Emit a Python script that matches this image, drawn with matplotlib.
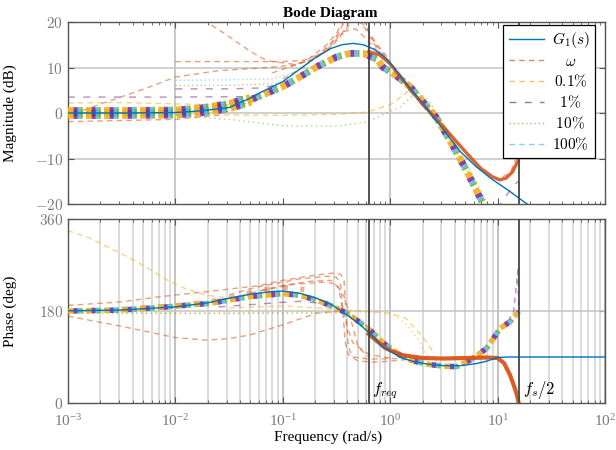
import numpy as np
import matplotlib
matplotlib.use('Agg')
import matplotlib.pyplot as plt
from matplotlib.lines import Line2D
from matplotlib.ticker import FixedLocator, FixedFormatter, LogLocator, NullFormatter

plt.rcParams['mathtext.fontset'] = 'cm'
plt.rcParams['font.family'] = ['Liberation Serif', 'DejaVu Serif']
plt.rcParams['lines.scale_dashes'] = False

# MATLAB default colours
c_blue = '#0072BD'
c_orange = '#D95319'
c_yellow = '#EDB120'
c_purple = '#7E2F8E'
c_green = '#77AC30'
c_cyan = '#4DBEEE'

f_req = 0.2 * np.pi
f_half = 5 * np.pi

# ---- magnitude data (log10 frequency, dB) ----
g1_mag_lf = [-3.0, -2.5, -2.0, -1.75, -1.5, -1.3, -1.2, -1.0, -0.85, -0.7, -0.55, -0.45, -0.35,
             -0.25, -0.15, -0.05, 0.0, 0.1, 0.2, 0.3, 0.4, 0.5, 0.65, 0.8, 0.95, 1.1, 1.25, 1.35]
g1_mag = [0.0, 0.0, 0.1, 0.5, 1.2, 3.3, 4.6, 6.9, 9.5, 12.1, 14.2, 15.0, 15.3,
          15.0, 14.0, 12.3, 11.0, 8.0, 5.0, 2.2, -0.8, -3.8, -8.4, -11.8, -14.6, -17.0, -19.6, -21.2]

est_mag_lf = [-3.0, -2.5, -2.0, -1.75, -1.5, -1.3, -1.0, -0.85, -0.68, -0.5, -0.375, -0.25, -0.12,
              -0.07, 0.05, 0.185, 0.3, 0.43, 0.55, 0.7, 0.84, 0.93]
est_mag = [0.0, 0.0, 0.1, 0.6, 1.5, 2.9, 5.8, 7.8, 10.2, 12.3, 13.1, 13.1, 11.8,
           10.1, 8.3, 5.8, 2.6, -1.0, -5.8, -12.2, -18.8, -23.0]

w_mag_lf = [-0.2, -0.1, 0.0, 0.1, 0.2, 0.3, 0.4, 0.55, 0.7, 0.84, 0.95, 1.02, 1.08, 1.14, 1.19]
w_mag = [13.5, 12.8, 10.8, 7.8, 4.8, 2.0, -0.6, -4.5, -8.5, -12.1, -14.0, -14.7, -14.3, -12.9, -10.5]

om1_lf = [-1.74, -1.5, -1.3, -1.15, -0.9, -0.7, -0.55, -0.45, -0.38]
om1 = [20.5, 16.8, 13.5, 11.5, 10.7, 11.8, 15.0, 19.0, 22.0]
om2_lf = [-2.0, -1.5, -1.0, -0.8, -0.6, -0.45, -0.35, -0.3, -0.2, -0.1, 0.0, 0.1]
om2 = [11.3, 11.3, 11.3, 11.6, 13.5, 17.5, 21.0, 21.5, 17.0, 13.5, 11.2, 8.2]
om3_lf = [-2.86, -2.67, -2.3, -2.0, -1.6, -1.21, -0.9, -0.7, -0.55, -0.42, -0.35, -0.25, -0.12, 0.0]
om3 = [0.6, 2.2, 5.2, 7.9, 9.3, 9.9, 10.5, 12.0, 14.5, 18.0, 20.5, 19.5, 15.0, 11.5]
om4_lf = [-3.0, -2.0, -1.6, -1.3]
om4 = [-1.9, -1.4, -0.5, 2.6]
om5_lf = [-1.0, -0.8, -0.6, -0.45, -0.32, -0.22, -0.1, 0.0]
om5 = [7.5, 10.2, 14.3, 17.8, 18.5, 16.2, 13.2, 10.6]
om6_lf = [-1.1, -0.8, -0.6, -0.5, -0.42, -0.3, -0.25, -0.15, -0.05]
om6 = [8.8, 11.2, 14.8, 17.5, 20.8, 22.0, 20.5, 15.5, 12.5]
om7_lf = [1.05, 1.12, 1.17, 1.19]
om7 = [-14.0, -13.0, -10.0, -6.0]

p1_mag_lf = [-3.0, -2.0, -1.3, -1.1]
p1_mag = [3.5, 3.5, 3.6, 4.8]
p2_mag_lf = [-2.0, -1.5, -1.2, -1.0]
p2_mag = [5.3, 5.3, 5.5, 6.4]
p3_mag_lf = [1.0, 1.07, 1.13, 1.19]
p3_mag = [-21.0, -18.5, -16.5, -15.0]
c1_mag_lf = [-2.0, -1.5, -1.1, -0.9]
c1_mag = [7.2, 7.3, 7.5, 8.8]
gr1_mag_lf = [-2.0, -1.5, -1.1, -0.95]
gr1_mag = [6.0, 6.1, 6.4, 7.0]
gr2_mag_lf = [-2.0, -1.46, -1.0, -0.5, -0.22, 0.09, 0.25, 0.35, 0.5, 0.65, 0.8, 0.93]
gr2_mag = [-0.5, -1.5, -2.8, -2.9, -2.0, 1.3, 4.6, 3.0, -2.5, -8.5, -15.0, -21.0]
y1_mag_lf = [-2.0, -1.0, -0.5, -0.22, 0.0, 0.18, 0.3, 0.45, 0.6, 0.75, 0.88, 0.95]
y1_mag = [-0.4, -0.5, -0.3, 0.2, 1.8, 5.0, 3.2, -1.5, -8.0, -14.0, -20.0, -23.0]
y2_mag_lf = [-3.0, -2.5, -2.0, -1.5]
y2_mag = [2.2, 2.3, 2.0, 1.8]

# ---- phase data (log10 frequency, deg) ----
g1_ph_lf = [-3.0, -2.5, -2.0, -1.7, -1.5, -1.3, -1.1, -1.0, -0.85, -0.7, -0.55, -0.44, -0.3,
            -0.2, -0.07, 0.09, 0.2, 0.35, 0.5, 0.65, 0.8, 0.9, 1.0, 1.1, 2.0]
g1_ph = [180.5, 182, 188, 196, 205, 213, 218, 219, 215, 206, 193, 178, 157,
         138, 110, 90, 82, 76, 73, 73, 77, 82, 89, 90, 90]

est_ph_lf = [-3.0, -2.5, -2.14, -1.68, -1.31, -1.0, -0.85, -0.68, -0.5, -0.375, -0.19, -0.05,
             0.09, 0.2, 0.34, 0.5, 0.62, 0.743, 0.82, 0.898, 0.96, 1.022, 1.115, 1.196]
est_ph = [180, 182, 187, 195, 208, 214, 211, 201, 186, 172, 143, 115,
          94, 83, 76, 72, 71, 84, 95, 107, 126, 146, 159, 179]

w_ph_lf = [-0.2, -0.05, 0.1, 0.3, 0.5, 0.7, 0.9, 1.0, 1.06, 1.115, 1.15, 1.18, 1.196]
w_ph = [135, 108, 94, 88, 87, 88, 89, 88, 78, 55, 35, 16, 0]
w_low_ph_lf = [-2.5, -2.0, -1.7, -1.45, -1.21, -1.0, -0.8]
w_low_ph = [183, 190, 197, 207, 220, 226, 222]

oph1_lf = [-3.0, -2.5, -2.14, -1.7, -1.21, -1.0, -0.7, -0.53, -0.46, -0.43, -0.41, -0.39, -0.35, -0.2, 0.1, 0.4]
oph1 = [191, 198, 208, 218, 230, 240, 250, 254, 252, 240, 170, 110, 90, 86, 87, 88]
oph2_lf = [-3.0, -2.5, -2.0, -1.71, -1.5, -1.31, -1.0, -0.68, -0.44, -0.3, -0.15, 0.0, 0.2, 0.4]
oph2 = [170, 150, 128, 123, 126, 133, 153, 176, 180, 165, 130, 100, 88, 87]
oph3_lf = [-1.5, -1.24, -0.84, -0.6, -0.5, -0.46, -0.44, -0.42, -0.39, -0.3, -0.15, 0.0, 0.2]
oph3 = [212, 227, 243, 248, 246, 230, 180, 120, 95, 82, 80, 82, 86]
oph4_lf = [-1.3, -1.0, -0.75, -0.55, -0.48, -0.45, -0.4, -0.35, -0.2, 0.0]
oph4 = [215, 230, 238, 240, 225, 190, 150, 118, 95, 88]
oph5_lf = [-1.2, -0.9, -0.6, -0.5, -0.42, -0.35, -0.3, -0.2]
oph5 = [220, 232, 237, 232, 205, 150, 110, 90]

yph1_lf = [-3.0, -2.8, -2.6, -2.39, -2.2, -2.08, -1.9, -1.71, -1.5]
yph1 = [337, 323, 302, 280, 257, 241, 223, 211, 205]
yph2_lf = [-3.0, -2.0, -1.0, -0.5, -0.12, 0.05, 0.16, 0.25, 0.34, 0.45]
yph2 = [176, 176, 177, 178, 178, 170, 152, 128, 94, 80]
yph3_lf = [-1.5, -1.0, -0.6, -0.3, 0.0, 0.15, 0.3, 0.4]
yph3 = [186, 190, 185, 180, 176, 165, 130, 100]
gph1_lf = [-3.0, -1.5, -0.5]
gph1 = [176, 175, 176]
pph1_lf = [-1.6, -1.33, -1.0, -0.84, -0.6, -0.4, -0.2]
pph1 = [188, 192, 197, 199, 194, 178, 148]
pph2_lf = [1.1, 1.15, 1.18, 1.19, 1.195]
pph2 = [160, 180, 240, 265, 185]

mag_ticks = [-20, -10, 0, 10, 20]
ph_ticks = [0, 180, 360]


def draw(ax, lf, vals, **kw):
    ax.plot(10.0 ** np.asarray(lf), vals, **kw)


def bundle(ax, lf, vals, lw):
    # thick interleaved dashes: the identified-model cloud
    P = 13.0
    parts = [(c_yellow, 0.0, 4.0), (c_purple, 4.0, 3.0), (c_cyan, 7.0, 2.0), (c_green, 9.0, 1.5)]
    for col, start, on in parts:
        draw(ax, lf, vals, color=col, lw=lw, solid_capstyle='butt', dash_capstyle='butt',
             linestyle=((P - start) % P, (on, P - on)), alpha=0.9, zorder=3)


fig = plt.figure(figsize=(6.16, 4.5), dpi=100)
ax1 = fig.add_axes([68 / 616, 1 - 204 / 450, 537 / 616, 182 / 450])
ax2 = fig.add_axes([68 / 616, 1 - 403 / 450, 537 / 616, 184 / 450])

fade = dict(lw=1.0, alpha=0.55, zorder=2)

# magnitude panel
for lf, v in [(om1_lf, om1), (om2_lf, om2), (om3_lf, om3), (om4_lf, om4),
              (om5_lf, om5), (om6_lf, om6), (om7_lf, om7)]:
    draw(ax1, lf, v, color=c_orange, linestyle=(0, (4, 3)), **fade)
draw(ax1, p1_mag_lf, p1_mag, color=c_purple, linestyle=(0, (5, 6)), **fade)
draw(ax1, p2_mag_lf, p2_mag, color=c_purple, linestyle=(0, (5, 6)), **fade)
draw(ax1, p3_mag_lf, p3_mag, color=c_purple, linestyle=(0, (5, 6)), **fade)
draw(ax1, c1_mag_lf, c1_mag, color=c_cyan, linestyle=(0, (1, 2)), **fade)
draw(ax1, gr1_mag_lf, gr1_mag, color=c_green, linestyle=(0, (1, 2)), **fade)
draw(ax1, gr2_mag_lf, gr2_mag, color=c_green, linestyle=(0, (1, 2.5)), **fade)
draw(ax1, y1_mag_lf, y1_mag, color=c_yellow, linestyle=(0, (4, 3)), **fade)
draw(ax1, y2_mag_lf, y2_mag, color=c_yellow, linestyle=(0, (4, 3)), **fade)

est_mag_arr = np.asarray(est_mag)
low = np.asarray(est_mag_lf) <= -1.3
bundle(ax1, np.asarray(est_mag_lf)[low], est_mag_arr[low], 8.5)
bundle(ax1, est_mag_lf, est_mag, 5.0)
draw(ax1, w_mag_lf, w_mag, color=c_orange, lw=2.4, alpha=0.9, zorder=4)
draw(ax1, g1_mag_lf, g1_mag, color=c_blue, lw=1.0, zorder=5)

# phase panel
for lf, v in [(oph1_lf, oph1), (oph2_lf, oph2), (oph3_lf, oph3), (oph4_lf, oph4), (oph5_lf, oph5)]:
    draw(ax2, lf, v, color=c_orange, linestyle=(0, (4, 3)), **fade)
draw(ax2, yph1_lf, yph1, color=c_yellow, linestyle=(0, (4, 3)), **fade)
draw(ax2, yph2_lf, yph2, color=c_yellow, linestyle=(0, (1, 2.5)), **fade)
draw(ax2, yph3_lf, yph3, color=c_yellow, linestyle=(0, (4, 3)), **fade)
draw(ax2, gph1_lf, gph1, color=c_green, linestyle=(0, (1, 2.5)), **fade)
draw(ax2, pph1_lf, pph1, color=c_purple, linestyle=(0, (5, 6)), **fade)
draw(ax2, pph2_lf, pph2, color=c_purple, linestyle=(0, (4, 3)), **fade)

draw(ax2, w_low_ph_lf, w_low_ph, color=c_orange, lw=4.0, alpha=0.45,
     linestyle=(0, (4, 9)), dash_capstyle='butt', zorder=3)
bundle(ax2, est_ph_lf, est_ph, 4.0)
draw(ax2, w_ph_lf, w_ph, color=c_orange, lw=3.0, alpha=0.95, zorder=4)
draw(ax2, g1_ph_lf, g1_ph, color=c_blue, lw=1.0, zorder=5)

grid_major = '#c4c4c4'
grid_minor = '#d6d6d6'
tick_col = '#7a7a7a'

for ax in (ax1, ax2):
    ax.set_xscale('log')
    ax.set_xlim(1e-3, 1e2)
    ax.axvline(f_req, color='#454545', lw=1.3, zorder=6)
    ax.axvline(f_half, color='#454545', lw=1.3, zorder=6)
    ax.tick_params(which='both', direction='in', top=True, right=True,
                   colors='#555555', labelcolor=tick_col, labelsize=11)
    ax.tick_params(which='major', length=4)
    ax.tick_params(which='minor', length=2)
    ax.tick_params(axis='x', which='major', pad=7)
    ax.xaxis.set_minor_locator(LogLocator(base=10, subs=np.arange(2, 10)))
    ax.xaxis.set_minor_formatter(NullFormatter())
    for s in ax.spines.values():
        s.set_color('#555555')
        s.set_linewidth(1.0)

ax1.set_ylim(-20, 20)
ax1.yaxis.set_major_locator(FixedLocator(mag_ticks))
ax1.yaxis.set_major_formatter(FixedFormatter(['$%d$' % t for t in mag_ticks]))
ax1.xaxis.set_major_formatter(NullFormatter())
for y in [-10, 0, 10]:
    ax1.axhline(y, color=grid_major, lw=1.1, zorder=1)
for x in [1e-2, 1e0]:
    ax1.axvline(x, color=grid_major, lw=1.3, zorder=1)

ax2.set_ylim(0, 360)
ax2.yaxis.set_major_locator(FixedLocator(ph_ticks))
ax2.yaxis.set_major_formatter(FixedFormatter(['$%d$' % t for t in ph_ticks]))
ax2.axhline(180, color=grid_major, lw=1.1, zorder=1)
ax2.grid(True, which='major', axis='x', color='#b8b8b8', lw=1.2, zorder=1)
ax2.grid(True, which='minor', axis='x', color=grid_minor, lw=1.2, zorder=1)
ax2.set_axisbelow(True)

ax1.set_ylabel('Magnitude (dB)', fontsize=11)
ax1.yaxis.set_label_coords(-0.095, 0.5)
ax2.set_ylabel('Phase (deg)', fontsize=11)
ax2.yaxis.set_label_coords(-0.095, 0.5)
fig.text(328 / 616, 1 - 437 / 450, 'Frequency (rad/s)', ha='center', va='center', fontsize=11)
fig.text(330 / 616, 1 - 13 / 450, 'Bode Diagram', ha='center', va='center',
         fontsize=11, fontweight='bold')

ax2.text(f_req * 1.07, 25, r'$f_{req}$', fontsize=12, va='center', ha='left', zorder=7)
ax2.text(f_half * 1.1, 25, r'$f_s/2$', fontsize=12, va='center', ha='left', zorder=7)

handles = [
    Line2D([], [], color=c_blue, lw=1.0),
    Line2D([], [], color=c_orange, lw=1.0, alpha=0.7, linestyle=(0, (4, 3))),
    Line2D([], [], color=c_yellow, lw=1.0, alpha=0.7, linestyle=(0, (4, 3))),
    Line2D([], [], color=c_purple, lw=1.0, alpha=0.7, linestyle=(0, (5, 6))),
    Line2D([], [], color=c_green, lw=1.0, alpha=0.7, linestyle=(0, (1, 2))),
    Line2D([], [], color=c_cyan, lw=1.0, alpha=0.7, linestyle=(0, (4, 3))),
]
labels = [r'$G_1(s)$', r'$\quad\omega$', r'$\,0.1\%$', r'$\;\;1\%$', r'$\;10\%$', r'$100\%$']
leg = ax1.legend(handles, labels, loc='upper right', bbox_to_anchor=(0.981, 0.984),
                 fontsize=11, frameon=True, fancybox=False, framealpha=1.0,
                 edgecolor='black', handlelength=2.3, handletextpad=0.5,
                 borderpad=0.35, labelspacing=0.3, borderaxespad=0.0)
leg.get_frame().set_linewidth(0.9)
leg.set_zorder(10)

fig.savefig('out.png', dpi=100)
